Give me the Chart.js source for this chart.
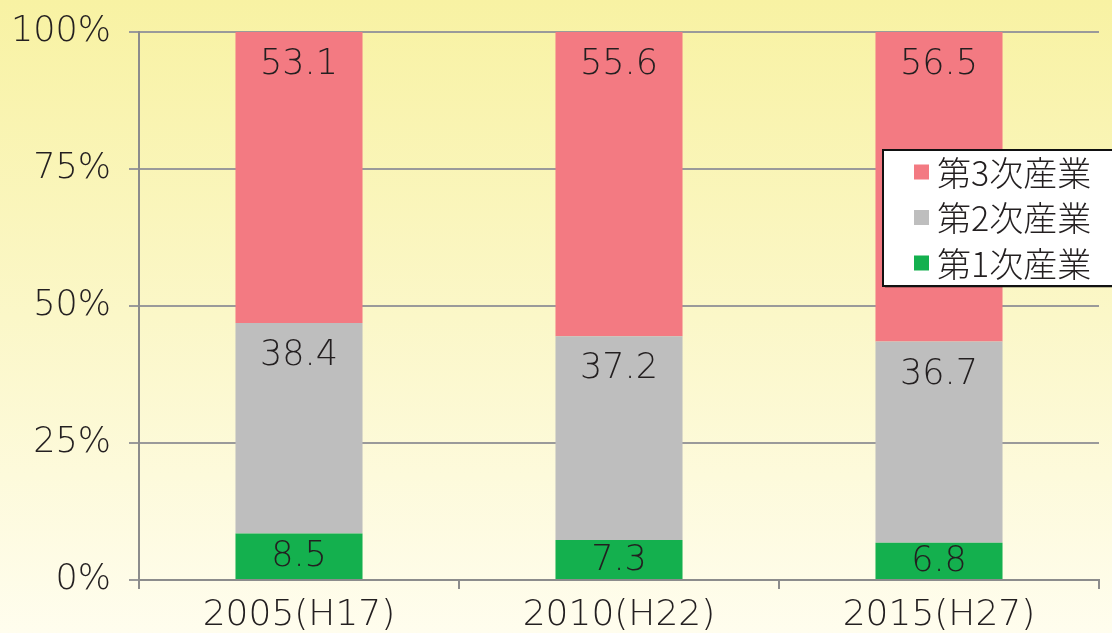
<!DOCTYPE html>
<html>
<head>
<meta charset="utf-8">
<script src="https://cdn.jsdelivr.net/npm/chart.js@4"></script>
<style>
  html, body { margin: 0; padding: 0; background: #fdf9d8; }
  #wrap { width: 1112px; height: 633px; }
</style>
</head>
<body>
<div id="wrap"><canvas id="sangyo-chart"></canvas></div>
<script>
const years = ['2005(H17)', '2010(H22)', '2015(H27)'];
const dai1 = [8.5, 7.3, 6.8];
const dai2 = [38.4, 37.2, 36.7];
const dai3 = [53.1, 55.6, 56.5];
const yTicks = [0, 25, 50, 75, 100];

const FONT = "'DejaVu Sans', 'Noto Sans CJK JP', sans-serif";
const JP_FONT = "'Noto Sans CJK JP', 'DejaVu Sans', sans-serif";

// yellow gradient behind everything
const bgPlugin = {
  id: 'bg',
  beforeDraw(chart) {
    const c = chart.ctx;
    const g = c.createLinearGradient(0, 0, 0, chart.height);
    g.addColorStop(0, '#f8f2a3');
    g.addColorStop(0.5, '#fbf7c8');
    g.addColorStop(1, '#fffdee');
    c.save();
    c.fillStyle = g;
    c.fillRect(0, 0, chart.width, chart.height);
    c.restore();
  }
};

// values written near the top of each segment
const valuePlugin = {
  id: 'values',
  afterDatasetsDraw(chart) {
    const c = chart.ctx;
    c.save();
    c.font = '300 35px ' + FONT;
    c.fillStyle = '#231f20';
    c.textAlign = 'center';
    c.textBaseline = 'middle';
    chart.data.datasets.forEach((ds, i) => {
      chart.getDatasetMeta(i).data.forEach((bar, j) => {
        const top = Math.max(bar.y, chart.chartArea.top);
        const h = bar.base - top;
        const y = top + Math.min(32, h / 2) + 1;
        c.fillText(ds.data[j].toFixed(1), bar.x, y);
      });
    });
    c.restore();
  }
};

// boxed legend inside the plot
const legendPlugin = {
  id: 'boxLegend',
  afterDraw(chart) {
    const c = chart.ctx;
    const a = chart.chartArea;
    const x = a.right - 216, y = a.top + 118, w = 240, h = 136;
    c.save();
    c.fillStyle = 'rgba(0,0,0,0.25)';
    c.fillRect(x + 2, y + 2, w, h);
    c.fillStyle = '#ffffff';
    c.fillRect(x, y, w, h);
    c.strokeStyle = '#111';
    c.lineWidth = 2;
    c.strokeRect(x, y, w, h);
    const items = chart.data.datasets.slice().reverse();
    c.font = '300 34px ' + JP_FONT;
    c.textBaseline = 'middle';
    items.forEach((ds, k) => {
      const cy = y + 22 + k * 45.5;
      c.fillStyle = ds.backgroundColor;
      c.fillRect(x + 31, cy - 7.5, 15, 15);
      c.fillStyle = '#231f20';
      c.fillText(ds.label, x + 54, cy + 1);
    });
    c.restore();
  }
};

const data = {
  labels: years,
  datasets: [
    { label: '第1次産業', data: dai1, backgroundColor: '#14b04e' },
    { label: '第2次産業', data: dai2, backgroundColor: '#bebebe' },
    { label: '第3次産業', data: dai3, backgroundColor: '#f37a82' }
  ]
};

const config = {
  type: 'bar',
  data: data,
  options: {
    responsive: true,
    maintainAspectRatio: false,
    animation: false,
    layout: { padding: { left: 0, right: 13, top: 32, bottom: 0 } },
    datasets: {
      bar: { barPercentage: 0.397, categoryPercentage: 1, borderWidth: 0 }
    },
    plugins: {
      legend: { display: false },
      tooltip: { enabled: false }
    },
    scales: {
      x: {
        stacked: true,
        grid: { drawOnChartArea: false, drawTicks: true, tickLength: 9, color: '#8c8c8c', lineWidth: 2 },
        border: { color: '#8c8c8c', width: 2 },
        ticks: { color: '#231f20', font: { family: FONT, size: 36, weight: '300' }, padding: 5 },
        afterFit(scale) { scale.height = 53; scale.paddingLeft = 0; scale.paddingRight = 0; }
      },
      y: {
        stacked: true,
        min: 0,
        max: 100,
        afterBuildTicks(scale) { scale.ticks = yTicks.map(v => ({ value: v })); },
        grid: { color: '#9a9a9a', lineWidth: 2, tickLength: 10 },
        border: { color: '#8c8c8c', width: 2 },
        ticks: {
          color: '#231f20',
          font: { family: FONT, size: 35, weight: '300' },
          padding: 18,
          callback: function (value) { return value + '%'; }
        },
        afterFit(scale) { scale.width = 139; scale.paddingTop = 0; scale.paddingBottom = 0; }
      }
    }
  },
  plugins: [bgPlugin, valuePlugin, legendPlugin]
};

const sangyoChart = new Chart(document.getElementById('sangyo-chart').getContext('2d'), config);
</script>
</body>
</html>
